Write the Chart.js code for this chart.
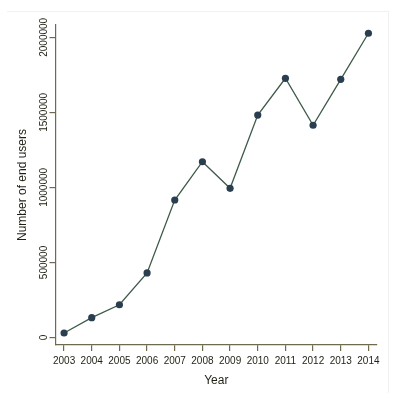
<!DOCTYPE html>
<html>
<head>
<meta charset="utf-8">
<script src="https://cdn.jsdelivr.net/npm/chart.js@4/dist/chart.umd.min.js"></script>
<style>
  html, body { margin: 0; padding: 0; background: #fff; }
  #wrap { position: relative; width: 395px; height: 393px; }
  #frame { position: absolute; left: 7px; top: 11px; width: 381px; height: 390px;
           border-top: 1px solid #f1f1f1; border-right: 1px solid #f1f1f1; }
  canvas { position: absolute; left: 0; top: 0; }
</style>
</head>
<body>
<div id="wrap">
  <div id="frame"></div>
  <canvas id="chart" width="395" height="393"></canvas>
</div>
<script>
'use strict';

// データ
const years = [2003, 2004, 2005, 2006, 2007, 2008, 2009, 2010, 2011, 2012, 2013, 2014];
const endUsers = [30000, 132000, 218000, 430000, 916000, 1171000, 994000, 1482000, 1727000, 1414000, 1720000, 2027000];
const yTicks = [0, 500000, 1000000, 1500000, 2000000];

const axisColor = '#6f6a4e';
const textColor = '#1f1f14';

const ctx = document.getElementById('chart').getContext('2d');

new Chart(ctx, {
  type: 'line',
  data: {
    datasets: [
      {
        data: years.map((y, i) => ({ x: y, y: endUsers[i] })),
        borderColor: '#3e5a48',
        borderWidth: 1.3,
        pointBackgroundColor: '#2a3e4f',
        pointBorderColor: '#2a3e4f',
        pointRadius: 3.6,
        pointBorderWidth: 0,
        tension: 0,
        fill: false,
      },
    ],
  },
  options: {
    responsive: false,
    animation: false,
    layout: { padding: { top: 25, right: 18, left: 0, bottom: 0 } },
    plugins: {
      legend: { display: false },
      tooltip: { enabled: false },
    },
    scales: {
      x: {
        type: 'linear',
        min: 2002.69,
        max: 2014.31,
        afterFit: (s) => { s.height = 48; },
        afterBuildTicks: (s) => { s.ticks = years.map((v) => ({ value: v })); },
        border: { display: true, color: axisColor, width: 1.2 },
        grid: { drawOnChartArea: false, drawTicks: true, tickLength: 6, color: axisColor, lineWidth: 1.2 },
        ticks: {
          autoSkip: false,
          maxRotation: 0,
          padding: 4,
          color: textColor,
          font: { family: 'Liberation Sans, Arial, sans-serif', size: 10 },
          callback: (v) => String(v),
        },
        title: {
          display: true,
          text: 'Year',
          color: textColor,
          font: { family: 'Liberation Sans, Arial, sans-serif', size: 12 },
          padding: { top: 0, bottom: 5 },
        },
      },
      y: {
        type: 'linear',
        min: -50000,
        max: 2082000,
        afterFit: (s) => { s.width = 55.5; },
        afterBuildTicks: (s) => { s.ticks = yTicks.map((v) => ({ value: v })); },
        border: { display: true, color: axisColor, width: 1.2 },
        grid: { drawOnChartArea: false, drawTicks: true, tickLength: 6, color: axisColor, lineWidth: 1.2 },
        ticks: {
          minRotation: 90,
          maxRotation: 90,
          crossAlign: 'center',
          padding: -14.5,
          color: textColor,
          font: { family: 'Liberation Sans, Arial, sans-serif', size: 10 },
          callback: (v) => String(v),
        },
        title: {
          display: true,
          text: 'Number of end users',
          color: textColor,
          font: { family: 'Liberation Sans, Arial, sans-serif', size: 12 },
          padding: { top: 15, bottom: 0 },
        },
      },
    },
  },
});
</script>
</body>
</html>
